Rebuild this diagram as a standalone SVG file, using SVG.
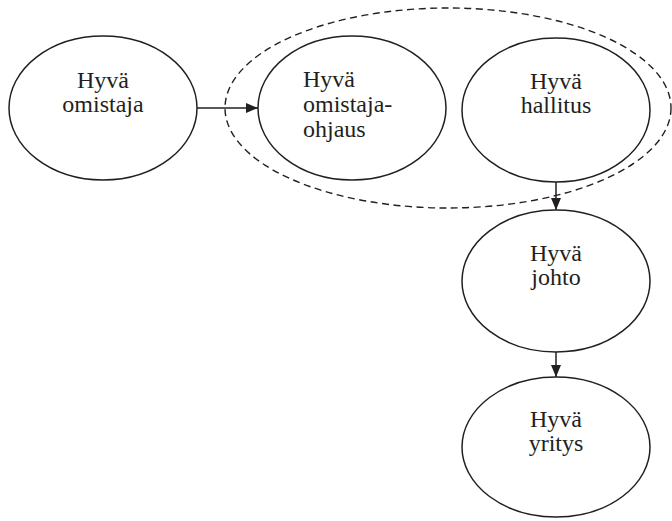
<svg xmlns="http://www.w3.org/2000/svg" width="672" height="521" viewBox="0 0 672 521">
  <defs>
    <style>
      .node { fill: #ffffff; stroke: #231f20; stroke-width: 1.5; }
      .group { fill: none; stroke: #231f20; stroke-width: 1.4; stroke-dasharray: 7 4.5; }
      .edge { stroke: #231f20; stroke-width: 1.5; fill: none; }
      text { font-family: "Liberation Serif", "DejaVu Serif", serif; font-size: 24px; fill: #231f20; }
      .c { text-anchor: middle; }
    </style>
    <marker id="arrow" markerWidth="12" markerHeight="10" refX="12" refY="5" orient="auto" markerUnits="userSpaceOnUse">
      <path d="M0,0 L12,5 L0,10 Z" fill="#231f20"/>
    </marker>
  </defs>
  <rect width="672" height="521" fill="#ffffff"/>

  <!-- ownership steering + board cluster -->
  <ellipse id="cluster" class="group" cx="448" cy="108" rx="223" ry="100"/>

  <g id="omistaja">
    <ellipse class="node" cx="103" cy="108" rx="94" ry="72"/>
    <text class="c" x="103" y="88">Hyvä</text>
    <text class="c" x="103" y="112">omistaja</text>
  </g>

  <g id="omistajaohjaus">
    <ellipse class="node" cx="352" cy="108" rx="94" ry="72"/>
    <text x="303" y="87">Hyvä</text>
    <text x="303" y="112">omistaja-</text>
    <text x="303" y="137">ohjaus</text>
  </g>

  <g id="hallitus">
    <ellipse class="node" cx="556" cy="110" rx="94" ry="72"/>
    <text class="c" x="556" y="89">Hyvä</text>
    <text class="c" x="556" y="113">hallitus</text>
  </g>

  <g id="johto">
    <ellipse class="node" cx="556" cy="281" rx="94" ry="71"/>
    <text class="c" x="556" y="261">Hyvä</text>
    <text class="c" x="556" y="285">johto</text>
  </g>

  <g id="yritys">
    <ellipse class="node" cx="556" cy="447" rx="94" ry="70"/>
    <text class="c" x="556" y="427">Hyvä</text>
    <text class="c" x="556" y="451">yritys</text>
  </g>

  <g id="connectors">
    <line class="edge" x1="197" y1="108" x2="258" y2="108" marker-end="url(#arrow)"/>
    <line class="edge" x1="556" y1="182" x2="556" y2="210" marker-end="url(#arrow)"/>
    <line class="edge" x1="556" y1="352" x2="556" y2="377" marker-end="url(#arrow)"/>
  </g>
</svg>
